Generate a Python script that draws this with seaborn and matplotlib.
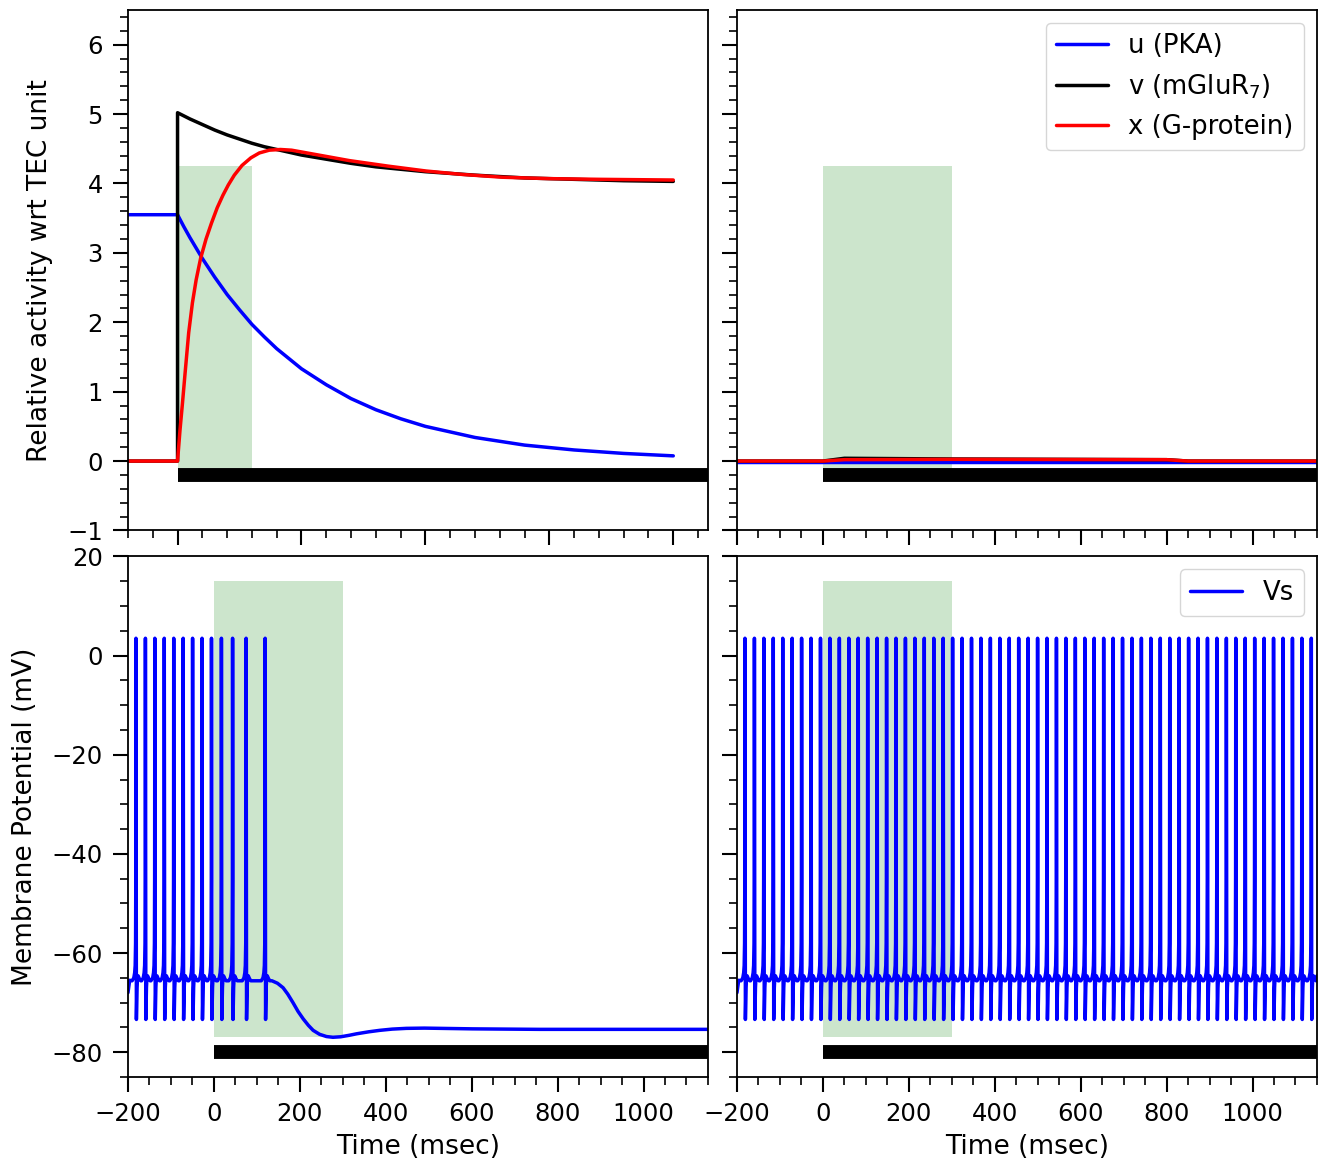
import numpy as np
import pandas as pd
import seaborn as sns
import matplotlib.pyplot as plt
from matplotlib.ticker import AutoMinorLocator, MultipleLocator

# stimulus window and bar
STIM_ON, STIM_OFF = 0, 300

# ---- top left: activity after stimulus (wide time axis)
t_u = [-200, 0, 25, 50, 75, 100, 150, 200, 250, 300, 350, 400, 500, 600, 700, 800,
       900, 1000, 1200, 1400, 1600, 1800, 2000]
u_on = [3.55, 3.55, 3.38, 3.22, 3.07, 2.92, 2.65, 2.40, 2.18, 1.97, 1.79, 1.62, 1.33,
        1.10, 0.90, 0.74, 0.61, 0.50, 0.34, 0.23, 0.16, 0.11, 0.075]

t_v = [-200, 0, 0, 50, 100, 150, 200, 250, 300, 350, 400, 500, 600, 700, 800, 1000,
       1200, 1400, 1600, 1800, 2000]
v_on = [0, 0, 5.02, 4.93, 4.85, 4.77, 4.70, 4.64, 4.58, 4.53, 4.49, 4.41, 4.35, 4.29,
        4.24, 4.17, 4.12, 4.08, 4.06, 4.04, 4.03]

t_x = [-200, 0, 10, 20, 30, 45, 60, 75, 93, 115, 137, 160, 183, 205, 229, 260, 296,
       330, 370, 415, 460, 507, 600, 693, 850, 1002, 1150, 1311, 1500, 1700, 2000]
x_on = [0, 0, 0.45, 0.84, 1.25, 1.85, 2.28, 2.61, 2.92, 3.20, 3.43, 3.65, 3.83, 3.98,
        4.12, 4.26, 4.37, 4.44, 4.48, 4.49, 4.48, 4.45, 4.39, 4.33, 4.25, 4.18, 4.13,
        4.09, 4.07, 4.06, 4.05]

# ---- top right: activity stays near zero
t_flat = [-200, 0, 50, 300, 800, 850, 1150]
u_off = [-0.01, -0.01, -0.01, -0.01, -0.01, -0.01, -0.01]
v_off = [0, 0, 0.04, 0.03, 0.02, 0.0, 0.0]
x_off = [0, 0, 0.02, 0.025, 0.02, 0.0, 0.0]

# ---- spike shape (offsets from peak, ms)
SPIKE_DT = [-9.0, -5.0, -3.0, -1.8, -0.9, -0.4, 0.0, 0.5, 1.0, 1.6, 2.4, 3.5, 5.0, 8.0, 11.0]
SPIKE_V = [-65.6, -65.0, -64.0, -62.5, -58.0, -45.0, 3.5, -45.0, -73.4, -71.0, -67.0,
           -65.0, -64.6, -65.2, -65.6]

head_t = [-200, -196]
head_v = [-68.0, -65.5]

# bottom left: firing stops during stimulus
spikes_on = [-181.4, -159.4, -137.5, -115.5, -93.5, -71.5, -49.6, -27.6, -5.6,
             17.5, 43.5, 75.0, 119.3]
tail_on_t = [135, 148, 161, 172, 184, 196, 208, 220, 231, 246, 262, 277, 295, 315, 332,
             360, 386, 415, 448, 490, 526, 602, 758, 1150]
tail_on_v = [-65.6, -66.1, -67.0, -68.3, -70.0, -71.8, -73.3, -74.6, -75.6, -76.4,
             -76.85, -77.0, -76.9, -76.6, -76.3, -75.9, -75.6, -75.35, -75.2, -75.15,
             -75.2, -75.3, -75.4, -75.4]

# bottom right: regular firing throughout
spikes_off = [-181.4, -159.4, -137.5, -115.5, -93.5, -71.5, -49.6, -27.6, -5.6, 16.3,
              38.3, 60.3, 82.2, 104.2, 126.2, 148.2, 170.1, 192.1, 214.1, 236.0,
              258.0, 280.0, 301.9, 323.9, 345.9, 367.9, 389.8, 411.8, 433.8, 455.7,
              477.7, 499.7, 521.6, 543.6, 565.6, 587.6, 609.5, 631.5, 653.5, 675.4,
              697.4, 719.4, 741.3, 763.3, 785.3, 807.3, 829.2, 851.2, 873.2, 895.1,
              917.1, 939.1, 961.0, 983.0, 1005.0, 1027.0, 1048.9, 1070.9, 1092.9, 1114.8,
              1136.8]
tail_off_t = [1150]
tail_off_v = [-64.6]


def build_trace(spikes, tail_t, tail_v):
    ts, vs = list(head_t), list(head_v)
    for s in spikes:
        ts += [s + d for d in SPIKE_DT]
        vs += SPIKE_V
    return pd.DataFrame({"t": ts + tail_t, "V": vs + tail_v})


sns.set_style("ticks")
plt.rcParams["font.family"] = ["DejaVu Sans"]
plt.rcParams.update({
    "axes.linewidth": 1.3,
    "axes.edgecolor": "black",
    "axes.labelcolor": "black",
    "text.color": "black",
    "xtick.color": "black",
    "ytick.color": "black",
})

fig, axes = plt.subplots(2, 2, figsize=(13.22, 11.63), dpi=100, sharey="row")
fig.subplots_adjust(left=0.0968, right=0.9962, top=0.9914, bottom=0.074,
                    wspace=0.05, hspace=0.05)
ax_tl, ax_tr = axes[0]
ax_bl, ax_br = axes[1]

lw = 2.5
line_kw = dict(estimator=None, sort=False, lw=lw)


def stim(ax, xmax, ybar, ylo, yhi):
    ax.plot([STIM_ON, xmax], [ybar, ybar], color="k", lw=10, solid_capstyle="butt")
    ax.fill_between([STIM_ON, STIM_OFF], ylo, yhi, color="green", alpha=0.2, lw=0)


# top left
stim(ax_tl, 2400, -0.2, -0.25, 4.25)
sns.lineplot(x=t_u, y=u_on, ax=ax_tl, color="blue", **line_kw)
sns.lineplot(x=t_v, y=v_on, ax=ax_tl, color="black", **line_kw)
sns.lineplot(x=t_x, y=x_on, ax=ax_tl, color="red", **line_kw)
ax_tl.set_xlim(-200, 2140)
ax_tl.xaxis.set_major_locator(MultipleLocator(500))

# top right
stim(ax_tr, 1300, -0.2, -0.25, 4.25)
sns.lineplot(x=t_flat, y=u_off, ax=ax_tr, color="blue", label="u (PKA)", **line_kw)
sns.lineplot(x=t_flat, y=v_off, ax=ax_tr, color="black", label="v (mGluR$_7$)", **line_kw)
sns.lineplot(x=t_flat, y=x_off, ax=ax_tr, color="red", label="x (G-protein)", **line_kw)
ax_tr.set_xlim(-200, 1150)
ax_tr.legend(loc="upper right", fontsize=18.6)

# bottom left
stim(ax_bl, 1300, -80, -77, 15)
sns.lineplot(data=build_trace(spikes_on, tail_on_t, tail_on_v), x="t", y="V",
             ax=ax_bl, color="blue", **line_kw)
ax_bl.set_xlim(-200, 1150)

# bottom right
stim(ax_br, 1300, -80, -77, 15)
sns.lineplot(data=build_trace(spikes_off, tail_off_t, tail_off_v), x="t", y="V",
             ax=ax_br, color="blue", label="Vs", **line_kw)
ax_br.set_xlim(-200, 1150)
ax_br.legend(loc="upper right", fontsize=18.6)

ax_tl.set_ylim(-1, 6.5)
ax_bl.set_ylim(-85, 20)
ax_tl.yaxis.set_major_locator(MultipleLocator(1))
ax_bl.yaxis.set_major_locator(MultipleLocator(20))

for ax in [ax_tr, ax_bl, ax_br]:
    ax.xaxis.set_major_locator(MultipleLocator(200))

for ax in axes.flat:
    ax.xaxis.set_minor_locator(AutoMinorLocator())
    ax.yaxis.set_minor_locator(AutoMinorLocator())
    ax.tick_params(which="major", length=11, width=1.5, labelsize=17.5, pad=7)
    ax.tick_params(which="minor", length=6, width=1.2)
    ax.set_xlabel("")
    ax.set_ylabel("")

for ax in [ax_tl, ax_tr]:
    ax.tick_params(labelbottom=False)

ax_tl.set_ylabel("Relative activity wrt TEC unit", fontsize=19, labelpad=10)
ax_bl.set_ylabel("Membrane Potential (mV)", fontsize=19, labelpad=10)
ax_bl.set_xlabel("Time (msec)", fontsize=19, labelpad=6)
ax_br.set_xlabel("Time (msec)", fontsize=19, labelpad=6)

fig.savefig("out.png", dpi=100)
